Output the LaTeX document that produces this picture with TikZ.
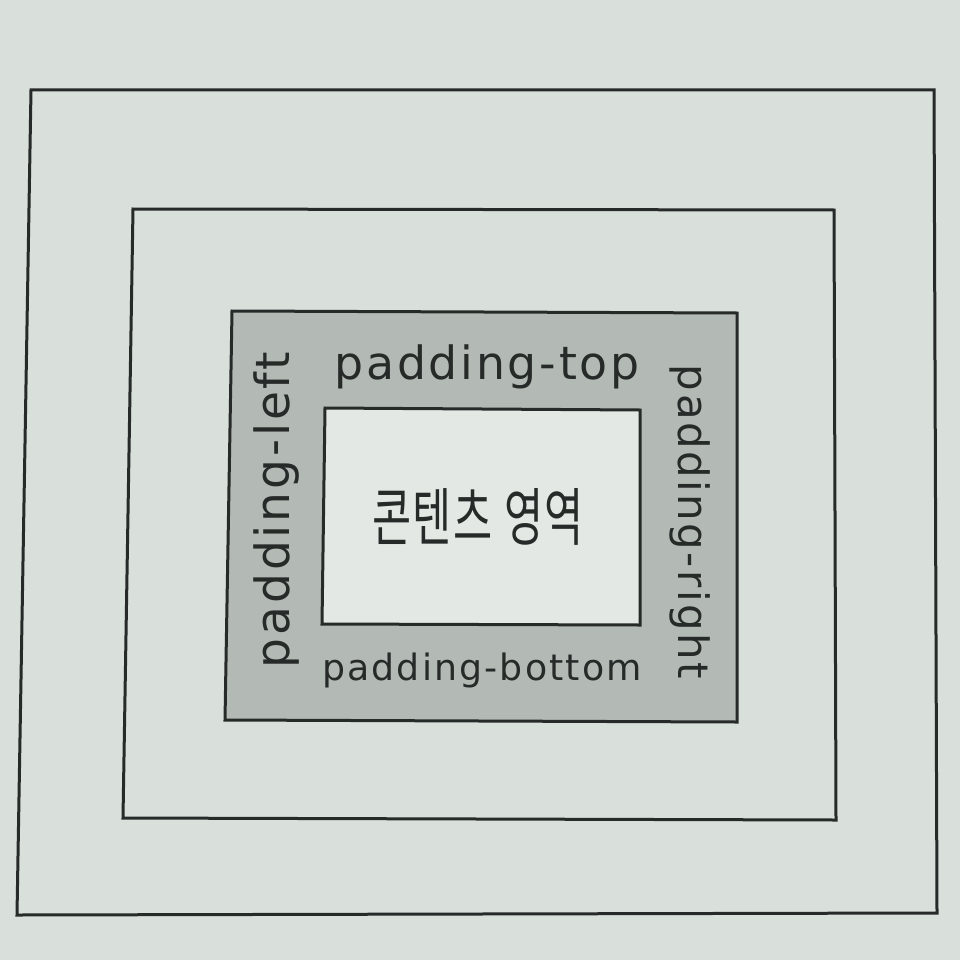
\documentclass[tikz,border=0pt]{standalone}
\usepackage{fontspec}
\setmainfont{DejaVu Sans}[LetterSpace=6]
\newfontfamily\kofont{Noto Sans CJK KR}[LetterSpace=4]
\definecolor{paper}{HTML}{D9DFDB}
\definecolor{padfill}{HTML}{B3B9B5}
\definecolor{contfill}{HTML}{E4E8E5}
\definecolor{ink}{HTML}{262B2A}
\tikzset{
  boxline/.style={draw=ink, line width=3pt, line join=miter},
  lbl/.style={inner sep=0pt, text=ink, font=\fontsize{30}{30}\selectfont}
}
\begin{document}
\begin{tikzpicture}[x=1pt,y=-1pt]
\fill[paper] (0,0) rectangle (960,960);
\useasboundingbox (0,0) rectangle (960,960);
% outer (margin) box
\draw[boxline] (31,90) -- (934,90) -- (937,913) -- (17,915) -- cycle;
% border box
\draw[boxline] (133,209) -- (834,210) -- (836,820) -- (123,818) -- cycle;
% padding box
\draw[boxline, fill=padfill] (232,311) -- (737,313) -- (737,722) -- (225,720) -- cycle;
% content box
\draw[boxline, fill=contfill] (325,408) -- (640,410) -- (640,625) -- (322,624) -- cycle;
\node[lbl] (top) at (487,367) {\resizebox{305pt}{!}{padding-top}};
\node[lbl] (bottom) at (482,670) {\resizebox{320pt}{!}{padding-bottom}};
\node[lbl, rotate=90] (left) at (276,510) {\resizebox{316pt}{!}{padding-left}};
\node[lbl, rotate=-90] (right) at (690,522) {\resizebox{314pt}{!}{padding-right}};
\node[lbl] (content) at (478,517) {\resizebox{212pt}{52pt}{\kofont 콘텐츠 영역}};
\end{tikzpicture}
\end{document}
